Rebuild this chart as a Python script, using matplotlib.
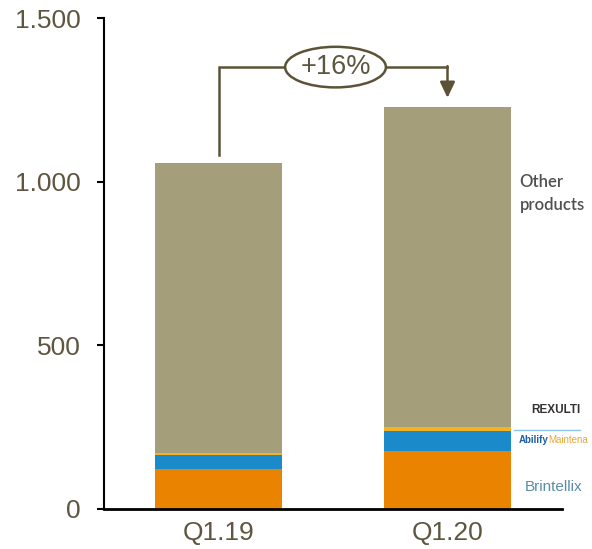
import matplotlib.pyplot as plt
from matplotlib.patches import Ellipse

# Revenue by product group, DKK m
quarters = ['Q1.19', 'Q1.20']
brintellix = [122, 177]
abilify_maintena = [43, 61]
rexulti = [5, 12]
other_products = [887, 978]
growth_label = '+16%'

colors = {
    'brintellix': '#E98300',
    'abilify': '#1A8ACB',
    'rexulti': '#F4B322',
    'other': '#A49E7B',
}
text_color = '#5E5640'
line_color = '#5C5237'

plt.rcParams['font.family'] = ['Liberation Sans', 'DejaVu Sans']

fig = plt.figure(figsize=(5.92, 5.49), dpi=100)
ax = fig.add_axes([0.1757, 0.0729, 0.7736, 0.8943])

x = list(range(len(quarters)))
width = 0.555
bottom = [0] * len(quarters)
for vals, key in [(brintellix, 'brintellix'), (abilify_maintena, 'abilify'),
                  (rexulti, 'rexulti'), (other_products, 'other')]:
    ax.bar(x, vals, width, bottom=bottom, color=colors[key], linewidth=0)
    bottom = [b + v for b, v in zip(bottom, vals)]
totals = bottom

ax.set_xlim(-0.5, 1.5)
ax.set_ylim(0, 1500)
ax.set_yticks([0, 500, 1000, 1500])
ax.set_yticklabels(['0', '500', '1.000', '1.500'])
ax.set_xticks(x)
ax.set_xticklabels(quarters)
ax.tick_params(axis='y', length=5, width=1.5, colors='black', labelcolor=text_color,
               labelsize=19, pad=12)
ax.tick_params(axis='x', length=0, labelcolor=text_color, labelsize=19, pad=9)
for side in ['top', 'right']:
    ax.spines[side].set_visible(False)
ax.spines['left'].set_linewidth(1.5)
ax.spines['bottom'].set_linewidth(2)

# growth bracket between the two bars
y_top = 1350
ax.plot([0, 0, 1], [totals[0] + 25, y_top, y_top], color=line_color, lw=1.8,
        solid_joinstyle='miter', zorder=3)
ax.annotate('', xy=(1, totals[1] + 28), xytext=(1, y_top + 3),
            arrowprops=dict(arrowstyle='-|>,head_width=0.45,head_length=0.95',
                            color=line_color, lw=1.8, shrinkA=0, shrinkB=0))
ax.add_patch(Ellipse((0.511, y_top), 0.44, 124, facecolor='white',
                     edgecolor=line_color, lw=1.8, zorder=4))
ax.text(0.511, y_top, growth_label, ha='center', va='center', fontsize=19.5,
        color=text_color, zorder=5)

# segment labels on the right
ax.text(1.315, 965, 'Other\nproducts', ha='left', va='center', fontsize=12,
        fontweight='semibold', family='Lato', color='#505050', linespacing=1.55)
ax.text(1.475, 302, 'REXULTI', ha='center', va='center', fontsize=8.5,
        fontweight='bold', color='#333333')
ax.text(1.44, 211, 'Abilify', ha='right', va='center', fontsize=7,
        fontweight='bold', color='#1F5FA8')
ax.text(1.44, 211, 'Maintena', ha='left', va='center', fontsize=7,
        color='#E8A83A')
ax.plot([1.29, 1.58], [240, 240], color='#8CC4E8', lw=1, clip_on=False)
ax.text(1.465, 67, 'Brintellix', ha='center', va='center', fontsize=11,
        color='#5A8CA8')

fig.savefig('out.png', dpi=100)
